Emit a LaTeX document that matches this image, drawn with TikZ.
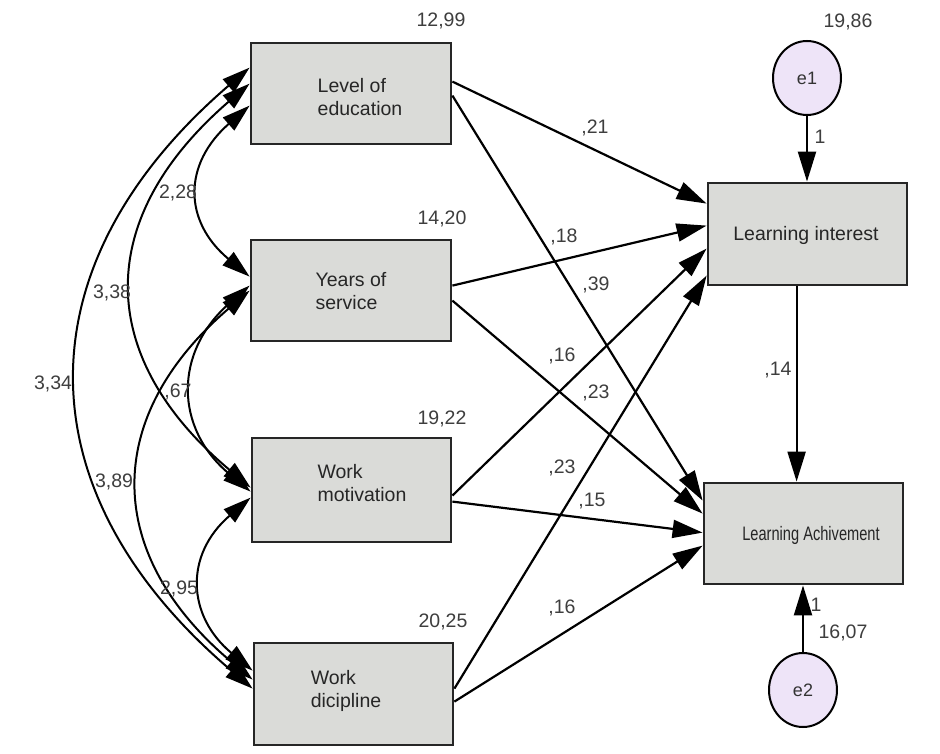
\documentclass[tikz,border=0pt]{standalone}
\usepackage{fontspec}
\setmainfont{Liberation Sans}
\usetikzlibrary{arrows.meta,shapes.geometric}
\definecolor{boxfill}{RGB}{218,219,216}
\definecolor{efill}{RGB}{238,228,248}
\definecolor{txt}{RGB}{62,62,62}
\begin{document}
\begin{tikzpicture}[x=1pt,y=-1pt,
  box/.style={rectangle, draw=black!85, line width=2.8pt, fill=boxfill, inner sep=0pt},
  err/.style={ellipse, draw=black, line width=2pt, fill=efill, minimum width=68pt, minimum height=74pt, inner sep=0pt, font=\fontsize{18}{20}\selectfont, text=black!80},
  lbl/.style={font=\fontsize{19.5}{23}\selectfont, text=txt, inner sep=0pt},
  btxt/.style={font=\fontsize{19.5}{23}\selectfont, text=black!85, align=left, inner sep=0pt},
  reg/.style={draw=black, line width=2.2pt, -{Triangle[length=30pt,width=18pt]}},
  cov/.style={draw=black, line width=2pt, {Triangle[length=28pt,width=17pt]}-{Triangle[length=28pt,width=17pt]}}]
\path[fill=white] (0,0) rectangle (940,754);
\useasboundingbox (0,0) rectangle (940,754);

% boxes
\node[box, minimum width=200pt, minimum height=101pt] (LE) at (351,93.5) {};
\node[box, minimum width=200pt, minimum height=101pt] (YS) at (351,290.5) {};
\node[box, minimum width=199pt, minimum height=104pt] (WM) at (351.5,490) {};
\node[box, minimum width=199pt, minimum height=102pt] (WD) at (353.5,694) {};
\node[box, minimum width=199pt, minimum height=102pt] (LI) at (807.5,234) {};
\node[box, minimum width=199pt, minimum height=101pt] (LA) at (803.5,533.5) {};
\node[err] (E1) at (807,78) {e1};
\node[err] (E2) at (803,690) {e2};

% box texts
\node[btxt] (LEt) at (360,97) {Level of\\education};
\node[btxt] (YSt) at (351,291) {Years of\\service};
\node[btxt] (WMt) at (362,483) {Work\\motivation};
\node[btxt] (WDt) at (346,691) {Work\\dicipline};
\node[btxt] (LIt) at (806,235) {Learning interest};
\node[btxt] (LAt) at (811,535) {\scalebox{0.75}[1]{Learning Achivement}};

% regression paths
\draw[reg] ([yshift=-40pt]LE.north east) -- ([yshift=-22pt]LI.north west);
\draw[reg] ([yshift=-54pt]LE.north east) -- ([yshift=-19pt]LA.north west);
\draw[reg] ([yshift=-47pt]YS.north east) -- ([yshift=-44pt]LI.north west);
\draw[reg] ([yshift=-62pt]YS.north east) -- ([yshift=-32pt]LA.north west);
\draw[reg] ([yshift=-59pt]WM.north east) -- ([yshift=-67pt]LI.north west);
\draw[reg] ([yshift=-65pt]WM.north east) -- ([yshift=-51pt]LA.north west);
\draw[reg] ([yshift=-47pt]WD.north east) -- ([yshift=-94pt]LI.north west);
\draw[reg] ([yshift=-60pt]WD.north east) -- ([yshift=-64pt]LA.north west);
\draw[reg] ([xshift=90pt]LI.south west) -- ([xshift=94pt]LA.north west);
\draw[reg] (E1.south) -- (LI.north -| E1.south);
\draw[reg] (E2.north) -- (LA.south -| E2.north);

% covariances
\draw[cov] ([yshift=-26pt]LE.north west) .. controls (19,266) and (22,493) .. ([yshift=-47pt]WD.north west);
\draw[cov] ([yshift=-42pt]LE.north west) .. controls (94,218) and (94,356) .. ([yshift=-51pt]WM.north west);
\draw[cov] ([yshift=-64pt]LE.north west) .. controls (183,164) and (183,221) .. ([yshift=-38pt]YS.north west);
\draw[cov] ([yshift=-52pt]YS.north west) .. controls (101,418) and (104,555) .. ([yshift=-38pt]WD.north west);
\draw[cov] ([yshift=-47pt]YS.north west) .. controls (174,352) and (174,428) .. ([yshift=-55pt]WM.north west);
\draw[cov] ([yshift=-61pt]WM.north west) .. controls (184,555) and (187,616) .. ([yshift=-29pt]WD.north west);

% labels
\node[lbl] (v1) at (441,21) {12,99};
\node[lbl] (v2) at (442,219) {14,20};
\node[lbl] (v3) at (442,419) {19,22};
\node[lbl] (v4) at (443,622) {20,25};
\node[lbl] (v5) at (848,22) {19,86};
\node[lbl] (v6) at (843,633) {16,07};
\node[lbl] (w1) at (820,137) {1};
\node[lbl] (w2) at (816,605) {1};
\node[lbl] (b1) at (595,128) {,21};
\node[lbl] (b2) at (564,237) {,18};
\node[lbl] (b3) at (596,285) {,39};
\node[lbl] (b4) at (562,356) {,16};
\node[lbl] (b5) at (778,370) {,14};
\node[lbl] (b6) at (596,393) {,23};
\node[lbl] (b7) at (562,468) {,23};
\node[lbl] (b8) at (592,501) {,15};
\node[lbl] (b9) at (562,608) {,16};
\node[lbl] (c1) at (178,193) {2,28};
\node[lbl] (c2) at (112,293) {3,38};
\node[lbl] (c3) at (53,384) {3,34};
\node[lbl] (c4) at (178,392) {,67};
\node[lbl] (c5) at (114,482) {3,89};
\node[lbl] (c6) at (179,589) {2,95};
\end{tikzpicture}
\end{document}
